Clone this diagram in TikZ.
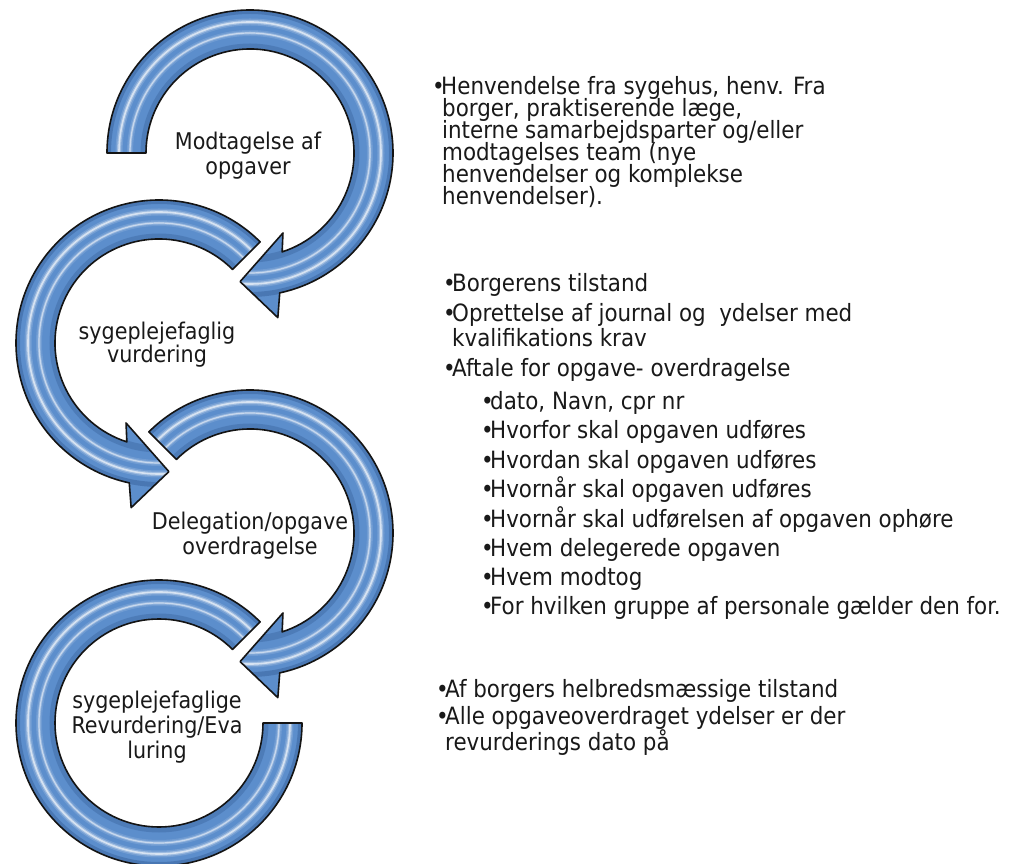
\documentclass[tikz,border=0pt]{standalone}
\usepackage{fontspec}
\IfFontExistsTF{DejaVu Sans Condensed}{\setmainfont{DejaVu Sans Condensed}}{\setmainfont{PT Sans}}
\definecolor{arrowblue}{RGB}{92,142,204}
\definecolor{arrowdark}{RGB}{40,78,135}
\definecolor{arrowline}{RGB}{20,20,20}
\definecolor{textcol}{RGB}{25,25,25}
\newcommand\cwpath[1]{(#1:143) arc[start angle=#1, end angle=-78, radius=143] -- (-80.4:167) -- (-94.4:129) -- (-67.6:86.5) -- (-72:104) arc[start angle=-72, end angle=#1, radius=104] -- cycle}
\newcommand\ccwpath[1]{(#1:143) arc[start angle=#1, end angle=258, radius=143] -- (260.4:167) -- (274.4:129) -- (247.6:86.5) -- (252:104) arc[start angle=252, end angle=#1, radius=104] -- cycle}
\newcommand\ringpath{(45:143) arc[start angle=45, end angle=360, radius=143] -- (0:104) arc[start angle=360, end angle=45, radius=104] -- cycle}
\newcommand\gloss{%
  \draw[arrowdark, line width=5pt, opacity=0.35] (0,0) circle[radius=141.5];
  \draw[arrowdark, line width=7pt, opacity=0.28] (0,0) circle[radius=106];
  \draw[white, line width=7pt, opacity=0.15] (0,0) circle[radius=131];
  \draw[white, line width=4pt, opacity=0.3] (0,0) circle[radius=131];
  \draw[white, line width=1.6pt, opacity=0.6] (0,0) circle[radius=131];
  \draw[white, line width=6pt, opacity=0.12] (0,0) circle[radius=120];
  \draw[white, line width=3pt, opacity=0.25] (0,0) circle[radius=120];
  \draw[white, line width=1.2pt, opacity=0.5] (0,0) circle[radius=120];
}
\newcommand\bul{\makebox[9pt][l]{\textbullet}}
\tikzset{
  arrowfillst/.style={fill=arrowblue},
  arrowedge/.style={draw=arrowline, line width=1.6pt, line join=round},
  lab/.style={font=\fontsize{23}{25}\selectfont, text=textcol, inner sep=0pt, anchor=base},
  rtxt/.style={font=\fontsize{23.8}{24}\selectfont, text=textcol, inner sep=0pt, anchor=base west},
}
\begin{document}
\begin{tikzpicture}[x=1pt,y=1pt]
\useasboundingbox (0,0) rectangle (1023,863);
\fill[white] (0,0) rectangle (1023,863);
\coordinate (c1) at (250,710);
\coordinate (c2) at (159,520);
\coordinate (c3) at (250,330);
\coordinate (c4) at (159,140);
% arrow 1
\begin{scope}[shift={(c1)}]
  \fill[arrowfillst] \cwpath{180};
  \begin{scope}\clip \cwpath{180}; \gloss \end{scope}
  \draw[arrowedge] \cwpath{180};
\end{scope}
% arrow 2
\begin{scope}[shift={(c2)}]
  \fill[arrowfillst] \ccwpath{45};
  \begin{scope}\clip \ccwpath{45}; \gloss \end{scope}
  \draw[arrowedge] \ccwpath{45};
\end{scope}
% arrow 3
\begin{scope}[shift={(c3)}]
  \fill[arrowfillst] \cwpath{135};
  \begin{scope}\clip \cwpath{135}; \gloss \end{scope}
  \draw[arrowedge] \cwpath{135};
\end{scope}
% ring 4
\begin{scope}[shift={(c4)}]
  \fill[arrowfillst] \ringpath;
  \begin{scope}\clip \ringpath; \gloss \end{scope}
  \draw[arrowedge] \ringpath;
\end{scope}
% circle labels
\node[lab] (l1a) at (248,713) {Modtagelse af};
\node[lab] (l1b) at (248,688) {opgaver};
\node[lab] (l2a) at (157,523) {sygeplejefaglig};
\node[lab] (l2b) at (157,500) {vurdering};
\node[lab] (l3a) at (250,333) {Delegation/opgave};
\node[lab] (l3b) at (250,308) {overdragelse};
\node[lab] (l4a) at (157,155) {sygeplejefaglige};
\node[lab] (l4b) at (157,130) {Revurdering/Eva};
\node[lab] (l4c) at (157,105) {luring};
% block 1
\node[rtxt] (a1) at (432,768) {\bul Henvendelse fra sygehus, henv. Fra};
\node[rtxt] (a2) at (442,746) {borger, praktiserende læge,};
\node[rtxt] (a3) at (442,724) {interne samarbejdsparter og/eller};
\node[rtxt] (a4) at (442,702) {modtagelses team (nye};
\node[rtxt] (a5) at (442,680) {henvendelser og komplekse};
\node[rtxt] (a6) at (442,658) {henvendelser).};
% block 2
\node[rtxt] (b1) at (443,571.3) {\bul Borgerens tilstand};
\node[rtxt] (b2) at (443,541.3) {\bul Oprettelse af journal og\ \ ydelser med};
\node[rtxt] (b3) at (452,516.3) {kvalifikations krav};
\node[rtxt] (b4) at (443,486.3) {\bul Aftale for opgave- overdragelse};
\node[rtxt] (s1) at (481,453) {\bul dato, Navn, cpr nr};
\node[rtxt] (s2) at (481,424) {\bul Hvorfor skal opgaven udføres};
\node[rtxt] (s3) at (481,394.5) {\bul Hvordan skal opgaven udføres};
\node[rtxt] (s4) at (481,365) {\bul Hvornår skal opgaven udføres};
\node[rtxt] (s5) at (481,335.5) {\bul Hvornår skal udførelsen af opgaven ophøre};
\node[rtxt] (s6) at (481,306) {\bul Hvem delegerede opgaven};
\node[rtxt] (s7) at (481,277) {\bul Hvem modtog};
\node[rtxt] (s8) at (481,248) {\bul For hvilken gruppe af personale gælder den for.};
% block 3
\node[rtxt] (d1) at (436,166) {\bul Af borgers helbredsmæssige tilstand};
\node[rtxt] (d2) at (436,139) {\bul Alle opgaveoverdraget ydelser er der};
\node[rtxt] (d3) at (445,113) {revurderings dato på};
\end{tikzpicture}
\end{document}
